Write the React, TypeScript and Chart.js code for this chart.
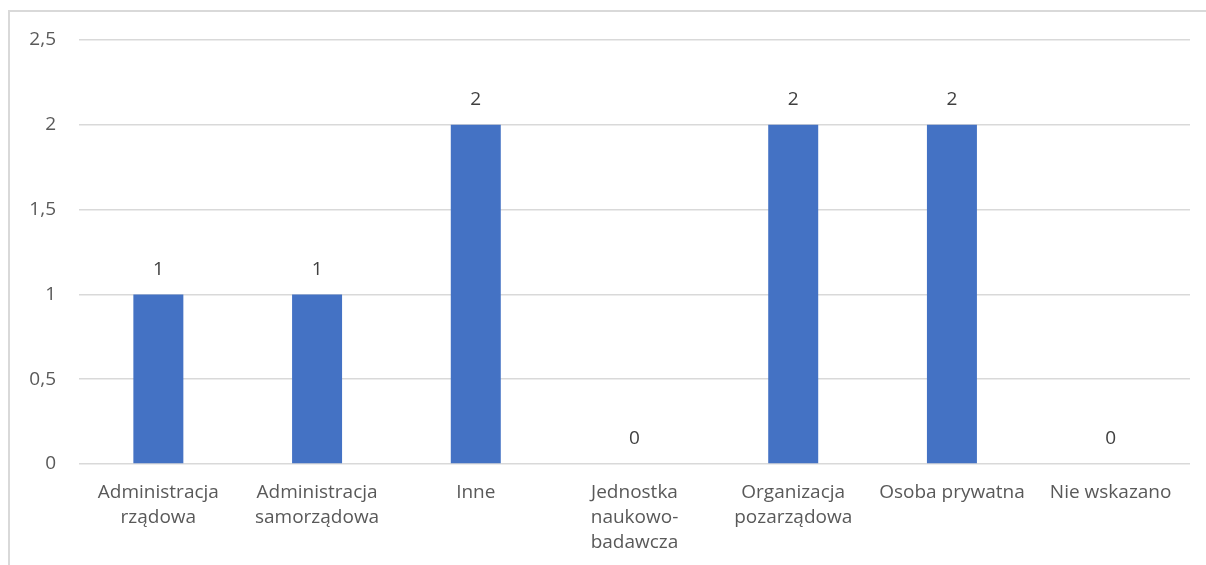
import React, { useEffect, useRef } from "react";
import { Chart, registerables } from "chart.js";

Chart.register(...registerables);

const categories: string[][] = [
  ["Administracja", "rządowa"],
  ["Administracja", "samorządowa"],
  ["Inne"],
  ["Jednostka", "naukowo-", "badawcza"],
  ["Organizacja", "pozarządowa"],
  ["Osoba prywatna"],
  ["Nie wskazano"],
];
const values: number[] = [1, 1, 2, 0, 2, 2, 0];
const yTicks: number[] = [0, 0.5, 1, 1.5, 2, 2.5];

const FONT = "'Open Sans', 'Noto Sans', sans-serif";

const valueLabels = {
  id: "valueLabels",
  afterDatasetsDraw(chart: any) {
    const ctx = chart.ctx;
    const meta = chart.getDatasetMeta(0);
    ctx.save();
    ctx.font = `19px ${FONT}`;
    ctx.fillStyle = "#404040";
    ctx.textAlign = "center";
    ctx.textBaseline = "middle";
    meta.data.forEach((bar: any, i: number) => {
      const v = chart.data.datasets[0].data[i];
      ctx.fillText(String(v), bar.x, bar.y - 25);
    });
    ctx.restore();
  },
};

export default function App() {
  const ref = useRef<HTMLCanvasElement | null>(null);
  useEffect(() => {
    if (!ref.current) return;
    const chart = new Chart(ref.current, {
      type: "bar",
      data: {
        labels: categories,
        datasets: [
          {
            data: values,
            backgroundColor: "#4472C4",
            barPercentage: 0.63,
            categoryPercentage: 0.5,
          },
        ],
      },
      options: {
        animation: false,
        responsive: false,
        layout: { padding: { top: 40, right: 16, left: 0, bottom: 0 } },
        plugins: { legend: { display: false }, tooltip: { enabled: false } },
        scales: {
          x: {
            grid: { display: false, drawTicks: false },
            border: { display: false },
            ticks: {
              color: "#595959",
              font: { family: FONT, size: 19, lineHeight: 1.32 },
              padding: 16,
              maxRotation: 0,
              autoSkip: false,
            },
            afterFit(scale: any) {
              scale.height = 101;
            },
          },
          y: {
            min: 0,
            max: 2.5,
            afterBuildTicks(scale: any) {
              scale.ticks = yTicks.map((v) => ({ value: v }));
            },
            grid: { color: "#d9d9d9", lineWidth: 1.5, drawTicks: false },
            border: { display: false },
            ticks: {
              color: "#595959",
              font: { family: FONT, size: 19 },
              padding: 23,
              callback: (v: any) => String(v).replace(".", ","),
            },
            afterFit(scale: any) {
              scale.width = 79;
            },
          },
        },
      },
      plugins: [valueLabels],
    });
    return () => chart.destroy();
  }, []);
  return (
    <div style={{ position: "absolute", left: 0, top: 0, width: 1206, height: 565, background: "#fff", overflow: "hidden" }}>
      <div
        style={{
          position: "absolute",
          left: 8,
          top: 10,
          width: 1198,
          height: 555,
          borderLeft: "2px solid #d9d9d9",
          borderTop: "2px solid #d9d9d9",
          boxSizing: "border-box",
        }}
      />
      <canvas ref={ref} width={1206} height={565} style={{ position: "absolute", left: 0, top: 0 }} />
    </div>
  );
}
